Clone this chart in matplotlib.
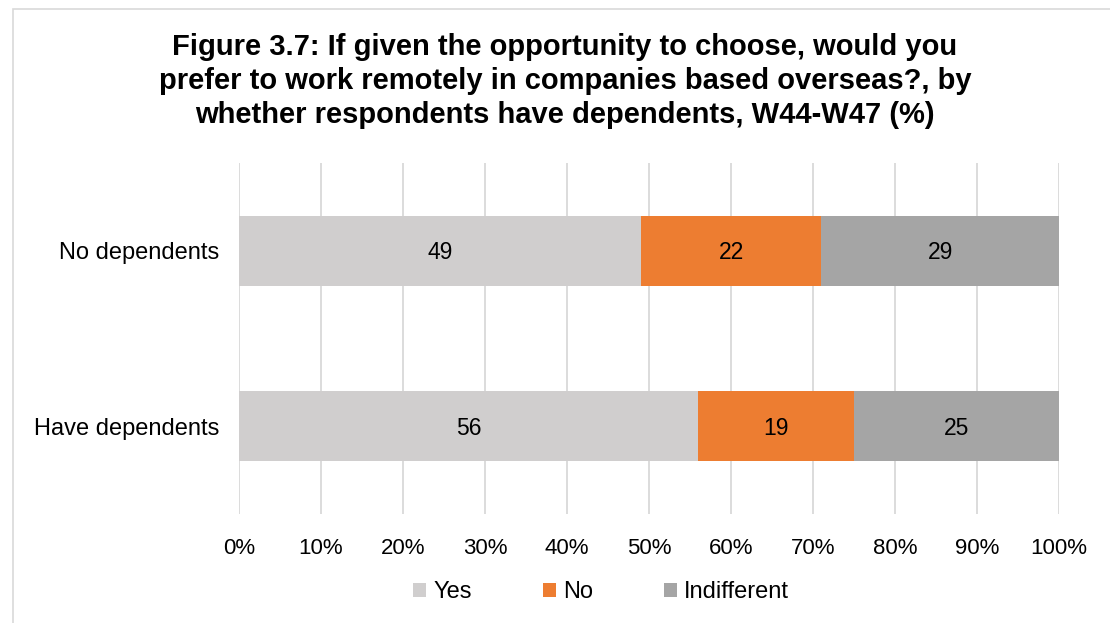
import matplotlib
matplotlib.use("Agg")
import matplotlib.pyplot as plt
from matplotlib.patches import Rectangle
from matplotlib.ticker import FixedLocator, FuncFormatter

plt.rcParams['font.family'] = ['Liberation Sans', 'DejaVu Sans']

categories = ["No dependents", "Have dependents"]
series_names = ["Yes", "No", "Indifferent"]
yes_vals = [49, 56]
no_vals = [22, 19]
indiff_vals = [29, 25]
x_ticks = [0, 10, 20, 30, 40, 50, 60, 70, 80, 90, 100]
title = ("Figure 3.7: If given the opportunity to choose, would you\n"
         "prefer to work remotely in companies based overseas?, by\n"
         "whether respondents have dependents, W44-W47 (%)")

colors = ["#D0CECE", "#ED7D31", "#A5A5A5"]

W, H = 1110, 623
fig = plt.figure(figsize=(W / 100, H / 100), dpi=100)

# outer chart frame (left and top edges visible)
fig.add_artist(Rectangle((13 / W, -0.1), 1.2, (H - 9) / H + 0.1,
                         transform=fig.transFigure, fill=False,
                         edgecolor="#D9D9D9", linewidth=1.2))

ax = fig.add_axes([239 / W, 1 - 514 / H, (1059 - 239) / W, (514 - 163) / H])

ypos = list(range(len(categories)))
left = [0] * len(categories)
for name, vals, col in zip(series_names, [yes_vals, no_vals, indiff_vals], colors):
    bars = ax.barh(ypos, vals, left=left, height=0.4, color=col, label=name, zorder=3)
    for b, v in zip(bars, vals):
        ax.text(b.get_x() + b.get_width() / 2, b.get_y() + b.get_height() / 2 + 0.01,
                f"{v}", ha="center", va="center", fontsize=16.5, color="black", zorder=4)
    left = [l + v for l, v in zip(left, vals)]

ax.set_xlim(0, 100)
ax.set_ylim(len(categories) - 0.5, -0.5)
ax.set_yticks(ypos)
ax.set_yticklabels(categories, fontsize=17)
ax.xaxis.set_major_locator(FixedLocator(x_ticks))
ax.xaxis.set_major_formatter(FuncFormatter(lambda v, p: f"{v:.0f}%"))
ax.tick_params(axis="x", labelsize=16, length=0, pad=17)
ax.tick_params(axis="y", length=0, pad=14)
ax.grid(axis="x", color="#D9D9D9", linewidth=1.3, zorder=0)
for s in ax.spines.values():
    s.set_visible(False)

fig.text(565 / W, 1 - 81 / H, title, ha="center", va="center", fontsize=21,
         fontweight="bold", linespacing=1.27)

leg = fig.legend(loc="center", bbox_to_anchor=(601 / W, 1 - 592 / H), ncol=3,
                 frameon=False, fontsize=17, handlelength=0.55, handleheight=0.55,
                 handletextpad=0.3, columnspacing=3.0)

fig.savefig("out.png", dpi=100)
